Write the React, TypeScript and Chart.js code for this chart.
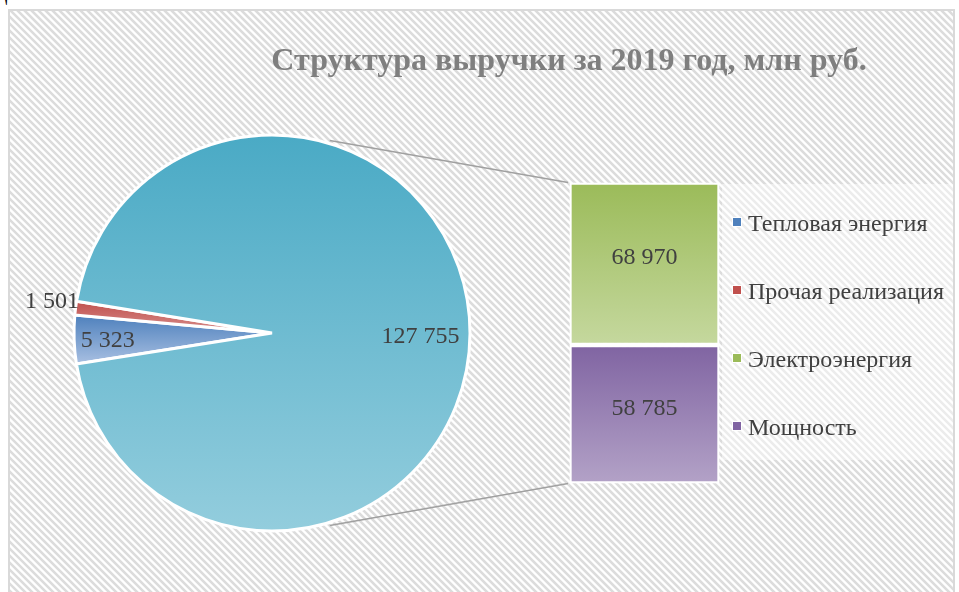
import React, { useEffect, useRef } from "react";
import { Chart, registerables } from "chart.js";

Chart.register(...registerables);

// ---------- data ----------
const TITLE = "Структура выручки за 2019 год, млн руб.";
const pieLabels = ["Тепловая энергия", "Прочая реализация", "Электроэнергия и мощность"];
const pieValues = [5323, 1501, 127755];
const barLabels = ["Мощность", "Электроэнергия"];
const barValues = [58785, 68970];
const legendLabels = ["Тепловая энергия", "Прочая реализация", "Электроэнергия", "Мощность"];

// ---------- styles ----------
const W = 959;
const H = 592;
const CX = 272;
const CY = 333;
const R = 198;
const ROT = 261;
const SERIF = '"Liberation Serif", "Times New Roman", serif';
const TEXT = "#404040";

const pieColors: [string, string][] = [
  ["#4f81bd", "#a9c0e2"],
  ["#c0504d", "#d88f8d"],
  ["#4aaac5", "#93cddd"],
];
const barColors: [string, string][] = [
  ["#8064a2", "#b3a2c7"],
  ["#9bbb59", "#c5d89e"],
];
const legendColors = ["#4f81bd", "#c0504d", "#9bbb59", "#8064a2"];
const pieLabelFactor = [0.83, 1.12, 0.75];
const pieLabelDy = [2, -3, 3];

const fmt = (v: number) => String(v).replace(/\B(?=(\d{3})+(?!\d))/g, " ");
const sum = (a: number[]) => a.reduce((s, v) => s + v, 0);
const rad = (d: number) => (d * Math.PI) / 180;

function sliceAngles(i: number) {
  const total = sum(pieValues);
  let start = ROT;
  for (let j = 0; j < i; j++) start += (pieValues[j] / total) * 360;
  const end = start + (pieValues[i] / total) * 360;
  return [start, end];
}

function drawStripes(ctx: CanvasRenderingContext2D) {
  // frame with diagonal hatch background
  ctx.save();
  ctx.beginPath();
  ctx.rect(10, 11, 943, 600);
  ctx.clip();
  ctx.fillStyle = "#ffffff";
  ctx.fillRect(10, 11, 943, 600);
  ctx.strokeStyle = "#dcdcdc";
  ctx.lineWidth = 2.6;
  const step = 7;
  for (let x0 = -700; x0 < 980; x0 += step) {
    ctx.beginPath();
    ctx.moveTo(x0, 0);
    ctx.lineTo(x0 + 700, 700);
    ctx.stroke();
  }
  ctx.restore();
  ctx.save();
  ctx.strokeStyle = "#d9d9d9";
  ctx.lineWidth = 2;
  ctx.strokeRect(9, 10, 945, 620);
  ctx.restore();
}

export default function App() {
  const pieRef = useRef<HTMLCanvasElement | null>(null);
  const barRef = useRef<HTMLCanvasElement | null>(null);

  useEffect(() => {
    if (!pieRef.current || !barRef.current) return;

    const piePlugin = {
      id: "pieDecor",
      beforeDraw(chart: any) {
        const ctx = chart.ctx;
        drawStripes(ctx);
        ctx.save();
        ctx.fillStyle = "rgba(255,255,255,0.45)";
        ctx.fillRect(722, 184, 231, 276);
        ctx.fillStyle = "#7f7f7f";
        ctx.font = `bold 32px ${SERIF}`;
        ctx.textAlign = "center";
        ctx.textBaseline = "alphabetic";
        ctx.fillText(TITLE, 569, 70);
        ctx.restore();
      },
      afterDatasetsDraw(chart: any) {
        const ctx = chart.ctx;
        const meta = chart.getDatasetMeta(0);
        ctx.save();
        ctx.fillStyle = TEXT;
        ctx.font = `24px ${SERIF}`;
        ctx.textAlign = "center";
        ctx.textBaseline = "middle";
        meta.data.forEach((arc: any, i: number) => {
          const { x, y, outerRadius } = arc.getProps(["x", "y", "outerRadius"], true);
          const [s, e] = sliceAngles(i);
          const mid = rad((s + e) / 2);
          const rr = outerRadius * pieLabelFactor[i];
          ctx.fillText(fmt(pieValues[i]), x + rr * Math.sin(mid), y - rr * Math.cos(mid) + pieLabelDy[i]);
        });
        // legend
        ctx.textAlign = "left";
        ctx.textBaseline = "alphabetic";
        ctx.font = `24px ${SERIF}`;
        legendLabels.forEach((lab, i) => {
          const base = 231 + i * 68;
          ctx.fillStyle = "#ffffff";
          ctx.fillRect(732, base - 14, 10, 10);
          ctx.fillStyle = legendColors[i];
          ctx.fillRect(733, base - 13, 8, 8);
          ctx.fillStyle = TEXT;
          ctx.fillText(lab, 748, base);
        });
        ctx.restore();
      },
    };

    const pie = new Chart(pieRef.current, {
      type: "pie",
      data: {
        labels: pieLabels,
        datasets: [
          {
            data: pieValues,
            backgroundColor: (c: any) => {
              const chart = c.chart;
              const area = chart.chartArea;
              const i = c.dataIndex;
              if (!area || i === undefined || !isFinite(area.left) || !isFinite(area.top)) return pieColors[i ?? 0][0];
              const cx = (area.left + area.right) / 2;
              const cy = (area.top + area.bottom) / 2;
              const [s, e] = sliceAngles(i);
              let minY = cy;
              let maxY = cy;
              for (let a = s; a <= e + 0.01; a += 0.25) {
                const yy = cy - R * Math.cos(rad(Math.min(a, e)));
                minY = Math.min(minY, yy);
                maxY = Math.max(maxY, yy);
              }
              if (!isFinite(minY) || !isFinite(maxY) || maxY <= minY) return pieColors[i][0];
              const g = chart.ctx.createLinearGradient(0, minY, 0, maxY);
              g.addColorStop(0, pieColors[i][0]);
              g.addColorStop(1, pieColors[i][1]);
              return g;
            },
            borderColor: "#ffffff",
            borderWidth: 3,
          },
        ],
      },
      options: {
        responsive: false,
        animation: false,
        events: [],
        rotation: ROT,
        radius: R,
        layout: {
          padding: { left: CX - 205, right: W - (CX + 205), top: CY - 205, bottom: H - (CY + 205) },
        },
        plugins: { legend: { display: false }, tooltip: { enabled: false }, title: { display: false } },
      } as any,
      plugins: [piePlugin],
    });

    const barTotal = sum(barValues);

    const barPlugin = {
      id: "barDecor",
      afterDatasetsDraw(chart: any) {
        const ctx = chart.ctx;
        ctx.save();
        // connectors
        const arc = pie.getDatasetMeta(0).data[0] as any;
        const { x: px, y: py, outerRadius } = arc.getProps(["x", "y", "outerRadius"], true);
        const r0 = outerRadius + 3;
        const bottomBar = chart.getDatasetMeta(0).data[0] as any;
        const topBar = chart.getDatasetMeta(barValues.length - 1).data[0] as any;
        const tb = topBar.getProps(["x", "y", "base", "width"], true);
        const bb = bottomBar.getProps(["x", "y", "base", "width"], true);
        ctx.strokeStyle = "#a0a0a0";
        ctx.lineWidth = 1.6;
        ctx.beginPath();
        ctx.moveTo(px + r0 * Math.sin(rad(16.7)), py - r0 * Math.cos(rad(16.7)));
        ctx.lineTo(tb.x - tb.width / 2 - 1.5, tb.y);
        ctx.moveTo(px + r0 * Math.sin(rad(163.3)), py - r0 * Math.cos(rad(163.3)));
        ctx.lineTo(bb.x - bb.width / 2 - 1.5, bb.base);
        ctx.stroke();
        // labels
        ctx.fillStyle = TEXT;
        ctx.font = `24px ${SERIF}`;
        ctx.textAlign = "center";
        ctx.textBaseline = "middle";
        barValues.forEach((v, i) => {
          const el = chart.getDatasetMeta(i).data[0] as any;
          const p = el.getProps(["x", "y", "base"], true);
          ctx.fillText(fmt(v), p.x, (p.y + p.base) / 2 - 6);
        });
        ctx.restore();
      },
    };

    const bar = new Chart(barRef.current, {
      type: "bar",
      data: {
        labels: ["2019"],
        datasets: barValues.map((v, i) => ({
          label: barLabels[i],
          data: [v],
          backgroundColor: (c: any) => {
            const chart = c.chart;
            const y = chart.scales?.y;
            if (!y) return barColors[i][0];
            const lo = sum(barValues.slice(0, i));
            const hi = lo + v;
            const y0 = y.getPixelForValue(hi);
            const y1 = y.getPixelForValue(lo);
            if (!isFinite(y0) || !isFinite(y1) || y0 === y1) return barColors[i][0];
            const g = chart.ctx.createLinearGradient(0, y0, 0, y1);
            g.addColorStop(0, barColors[i][0]);
            g.addColorStop(1, barColors[i][1]);
            return g;
          },
          borderColor: "#ffffff",
          borderWidth: 2.5,
          borderSkipped: false,
          barPercentage: 1,
          categoryPercentage: 1,
        })),
      },
      options: {
        responsive: false,
        animation: false,
        events: [],
        layout: { padding: { left: 569.5, right: W - 719.5, top: 182.5, bottom: H - 483.5 } },
        scales: {
          x: { display: false, stacked: true },
          y: { display: false, stacked: true, min: 0, max: barTotal },
        },
        plugins: { legend: { display: false }, tooltip: { enabled: false }, title: { display: false } },
      } as any,
      plugins: [barPlugin],
    });

    return () => {
      bar.destroy();
      pie.destroy();
    };
  }, []);

  return (
    <div style={{ position: "fixed", left: 0, top: 0, width: W, height: H, background: "#ffffff", overflow: "hidden" }}>
      <div
        style={{
          position: "absolute",
          right: W - 62,
          top: -17,
          fontFamily: SERIF,
          fontSize: 20,
          lineHeight: "20px",
          color: "#000",
          whiteSpace: "nowrap",
        }}
      >
        мощности.
      </div>
      <canvas ref={pieRef} width={W} height={H} style={{ position: "absolute", left: 0, top: 0, width: W, height: H }} />
      <canvas ref={barRef} width={W} height={H} style={{ position: "absolute", left: 0, top: 0, width: W, height: H }} />
    </div>
  );
}
